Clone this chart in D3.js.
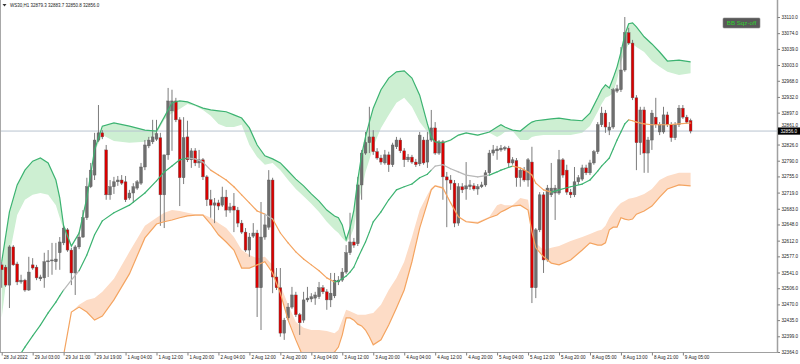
<!DOCTYPE html>
<html><head><meta charset="utf-8">
<script src="https://cdn.jsdelivr.net/npm/d3@7"></script>
<style>html,body{margin:0;padding:0;background:#fff;overflow:hidden}svg{display:block}</style>
</head><body><svg id="c" width="800" height="364"></svg>
<script>
const symbolTitle = "WS30,H1";
const lastOHLC = [32879.3, 32883.7, 32850.8, 32856.0];
const indicatorLabel = "BB Sqz-off";
const priceTicks = [33110,33074,33039,33003,32968,32932,32897,32861,32826,32790,32755,32719,32683,32648,32612,32577,32541,32506,32470,32435,32399,32364];
const timeTickIdx = [0,8,16,24,32,40,48,56,64,72,80,88,96,104,112,120,128,136,144,152,160,168,176];
const timeTickLabels = ["28 Jul 2022","29 Jul 03:00","29 Jul 11:00","29 Jul 19:00","1 Aug 04:00","1 Aug 12:00","1 Aug 20:00","2 Aug 04:00","2 Aug 12:00","2 Aug 20:00","3 Aug 04:00","3 Aug 12:00","3 Aug 20:00","4 Aug 04:00","4 Aug 12:00","4 Aug 20:00","5 Aug 04:00","5 Aug 12:00","5 Aug 20:00","8 Aug 05:00","8 Aug 13:00","8 Aug 21:00","9 Aug 05:00"];

const open = [
32558,32553,32513,32598,32560,32520,32524,32502,32558,32553,
32527,32529,32565,32567,32565,32585,32607,32636,32591,32540,
32598,32620,32663,32732,32758,32836,32852,32814,32714,32732,
32743,32747,32743,32707,32718,32729,32740,32776,32823,32832,
32838,32841,32714,32803,32901,32923,32881,32752,32843,32792,
32812,32785,32792,32754,32703,32691,32696,32691,32709,32680,
32689,32680,32651,32631,32591,32622,32629,32507,32620,32642,
32747,32531,32507,32406,32440,32464,32491,32447,32435,32480,
32482,32484,32487,32507,32498,32480,32489,32520,32524,32542,
32585,32609,32605,32736,32807,32830,32843,32810,32796,32785,
32803,32781,32821,32836,32812,32792,32798,32787,32783,32836,
32787,32836,32863,32807,32832,32754,32747,32740,32651,32732,
32727,32732,32734,32727,32732,32736,32763,32807,32812,32814,
32816,32818,32785,32790,32752,32769,32747,32787,32507,32636,
32714,32569,32714,32718,32718,32792,32769,32720,32714,32743,
32749,32774,32763,32785,32810,32870,32896,32858,32865,32945,
32948,32992,33075,33052,32930,32830,32903,32807,32836,32887,
32854,32854,32892,32870,32841,32870,32907,32887,32879.3];
const high = [
32565,32558,32602,32602,32565,32536,32527,32576,32573,32558,
32536,32585,32591,32607,32607,32620,32645,32640,32596,32602,
32631,32680,32752,32785,32852,32914,32858,32825,32747,32754,
32756,32758,32756,32725,32740,32747,32785,32836,32843,32881,
32881,32852,32803,32952,32948,32930,32887,32887,32879,32818,
32818,32814,32796,32758,32725,32707,32703,32732,32725,32696,
32718,32687,32658,32640,32629,32651,32636,32698,32669,32769,
32752,32551,32551,32440,32473,32509,32498,32451,32498,32509,
32495,32498,32520,32513,32504,32540,32540,32533,32551,32602,
32674,32618,32754,32814,32854,32910,32858,32818,32803,32814,
32810,32830,32843,32841,32818,32805,32803,32794,32854,32843,
32854,32903,32876,32836,32836,32765,32758,32747,32740,32740,
32787,32747,32740,32738,32743,32769,32814,32825,32823,32825,
32823,32823,32798,32796,32774,32776,32796,32821,32640,32720,
32720,32736,32785,32736,32814,32796,32781,32727,32776,32758,
32781,32781,32792,32814,32876,32910,32903,32876,32952,32959,
33043,33110,33086,33059,32936,32910,32910,32843,32903,32930,
32876,32910,32899,32876,32876,32914,32914,32892,32883.7];
const low = [
32507,32509,32462,32556,32513,32516,32498,32500,32547,32524,
32522,32507,32531,32536,32547,32547,32602,32587,32513,32491,
32593,32618,32658,32729,32747,32832,32838,32703,32703,32716,
32734,32736,32698,32703,32696,32725,32736,32769,32818,32827,
32834,32645,32640,32792,32812,32876,32689,32738,32787,32774,
32778,32774,32747,32689,32663,32651,32680,32687,32665,32674,
32631,32642,32627,32587,32576,32618,32442,32413,32614,32636,
32495,32502,32398,32391,32435,32460,32442,32402,32429,32475,
32475,32469,32482,32493,32458,32464,32484,32513,32520,32538,
32580,32596,32600,32703,32803,32807,32803,32792,32781,32781,
32765,32776,32816,32807,32776,32787,32783,32776,32778,32781,
32774,32832,32803,32803,32703,32642,32725,32642,32645,32718,
32703,32725,32723,32714,32729,32732,32758,32801,32792,32810,
32812,32776,32781,32732,32732,32743,32732,32473,32484,32631,
32540,32565,32709,32658,32714,32752,32714,32707,32709,32736,
32745,32758,32758,32781,32805,32865,32852,32847,32861,32941,
32943,32988,33048,32925,32769,32803,32763,32763,32814,32863,
32847,32850,32865,32832,32836,32865,32883,32872,32850.8];
const close = [
32547,32513,32598,32558,32520,32524,32502,32542,32551,32529,
32531,32565,32567,32569,32571,32609,32640,32591,32540,32598,
32620,32663,32732,32769,32836,32852,32843,32714,32732,32743,
32747,32740,32703,32718,32732,32743,32776,32825,32836,32843,
32850,32714,32803,32923,32923,32881,32752,32841,32792,32812,
32785,32792,32754,32703,32691,32696,32689,32709,32680,32687,
32680,32651,32631,32591,32620,32629,32507,32620,32647,32747,
32531,32507,32406,32435,32464,32491,32447,32429,32480,32484,
32487,32491,32507,32498,32480,32495,32524,32524,32542,32585,
32609,32602,32736,32807,32830,32843,32810,32796,32787,32803,
32781,32825,32836,32812,32792,32798,32787,32781,32847,32785,
32836,32863,32807,32832,32754,32747,32740,32651,32732,32725,
32734,32736,32727,32732,32736,32763,32807,32814,32816,32818,
32819,32785,32792,32752,32769,32747,32792,32507,32636,32714,
32569,32729,32729,32729,32792,32758,32720,32714,32743,32752,
32774,32763,32785,32810,32870,32896,32865,32865,32948,32950,
32992,33075,33052,32930,32830,32903,32807,32836,32896,32870,
32870,32892,32870,32841,32870,32907,32887,32876,32856.0];

// Bollinger bands, sampled at these bar indices
const bandIdx = [
0,2,4,6,8,10,12,14,15,16,
18,20,22,24,26,29,33,37,40,42,
44,46,48,50,52,54,56,58,60,62,
64,66,68,70,72,74,76,78,80,82,
84,86,87,88,89,90,91,92,93,94,
95,96,98,100,102,104,106,108,110,111,
112,114,116,118,120,123,126,128,129,130,
132,134,136,137,138,140,142,144,147,150,
152,154,155,156,157,158,159,160,161,162,
163,164,166,168,170,172,175,178];
const upperBand = [
32565,32676,32736,32769,32789,32796,32785,32747,32707,32645,
32600,32629,32707,32814,32867,32874,32867,32858,32856,32887,
32919,32923,32921,32914,32907,32903,32901,32899,32892,32885,
32863,32825,32801,32794,32785,32767,32749,32734,32716,32700,
32680,32667,32663,32647,32614,32640,32680,32747,32803,32843,
32876,32907,32948,32974,32988,32990,32974,32936,32872,32843,
32832,32830,32836,32847,32852,32847,32854,32865,32870,32865,
32858,32856,32870,32876,32879,32881,32883,32885,32881,32879,
32896,32930,32948,32959,32952,32974,32999,33032,33070,33095,
33097,33088,33066,33050,33032,33012,33014,33010];
const upperInner = [
32440,32580,32669,32703,32714,32718,32714,32691,32663,32636,
32596,32625,32703,32810,32847,32834,32830,32832,32850,32881,
32896,32905,32916,32912,32903,32890,32872,32865,32865,32870,
32825,32798,32781,32785,32769,32747,32727,32711,32694,32676,
32654,32636,32629,32618,32609,32618,32640,32691,32725,32765,
32792,32821,32863,32892,32919,32930,32910,32876,32854,32836,
32830,32827,32834,32845,32850,32845,32852,32843,32847,32854,
32856,32836,32836,32843,32845,32847,32847,32847,32847,32852,
32867,32899,32916,32930,32934,32941,32970,33010,33032,33050,
33050,33043,33032,33012,32999,32988,32981,32985];
const middleBand = [
32297,32324,32348,32375,32400,32424,32451,32475,32489,32502,
32524,32545,32580,32625,32656,32674,32691,32718,32745,32765,
32778,32792,32796,32794,32787,32769,32758,32747,32732,32714,
32696,32678,32671,32660,32629,32607,32587,32571,32558,32545,
32529,32520,32522,32527,32533,32542,32553,32573,32591,32609,
32631,32654,32676,32703,32725,32732,32738,32752,32760,32769,
32778,32781,32772,32765,32758,32754,32758,32765,32769,32772,
32778,32774,32765,32758,32740,32725,32720,32725,32732,32738,
32747,32767,32778,32787,32796,32816,32836,32854,32872,32881,
32879,32876,32872,32870,32870,32870,32872,32874];
// g = rising (green), o = falling (orange), n = flat (grey); applies to segment starting at the sample
const middleState = [
"g","g","g","g","g","g","g","g","g","n",
"n","g","g","g","g","g","g","g","g","g",
"g","g","n","n","n","o","o","o","o","o",
"o","o","n","o","o","o","o","o","o","o",
"o","g","g","g","g","g","g","g","g","g",
"g","g","g","g","g","g","g","g","g","n",
"n","n","n","n","n","n","g","g","g","g",
"o","o","o","o","o","o","g","g","g","g",
"g","g","g","g","g","g","g","g","g","o",
"o","o","o","o","o","o","o","o"];
const lowerInner = [
32030,31972,31961,31981,32010,32052,32117,32204,32271,32357,
32453,32469,32480,32484,32498,32527,32587,32645,32663,32674,
32680,32678,32674,32671,32671,32663,32651,32640,32620,32591,
32580,32573,32576,32558,32513,32469,32431,32418,32413,32413,
32411,32406,32413,32435,32458,32455,32451,32447,32447,32447,
32449,32451,32469,32502,32529,32565,32620,32680,32714,32729,
32736,32732,32698,32667,32656,32654,32665,32691,32694,32691,
32691,32707,32703,32645,32607,32591,32596,32600,32611,32620,
32627,32634,32636,32645,32663,32676,32687,32696,32700,32705,
32707,32709,32716,32727,32747,32756,32763,32763];
const lowerBand = [
32030,31972,31961,31981,32010,32052,32117,32204,32271,32357,
32453,32464,32453,32435,32444,32480,32538,32618,32649,32654,
32658,32663,32667,32669,32669,32649,32625,32609,32591,32551,
32551,32558,32565,32540,32495,32435,32391,32351,32342,32342,
32351,32364,32375,32402,32440,32440,32435,32426,32422,32413,
32398,32380,32391,32424,32462,32502,32565,32640,32696,32725,
32734,32729,32696,32665,32654,32651,32663,32669,32676,32680,
32689,32691,32680,32631,32596,32576,32562,32558,32569,32591,
32607,32602,32602,32607,32636,32642,32642,32663,32660,32658,
32660,32671,32678,32689,32709,32727,32736,32734];

const W = 800, H = 364;
const plot = {left: 0, right: 777.5, top: 0, bottom: 352.5};
const svg = d3.select("#c");
const x = d3.scaleLinear().domain([0, 178]).range([1.7, 690.6]);
const y = d3.scaleLinear().domain([32364, 33110]).range([352, 17]);

const font = "'Liberation Sans', Arial, sans-serif";
svg.append("rect").attr("width", W).attr("height", H).attr("fill", "#ffffff");

svg.append("defs").append("clipPath").attr("id", "clip")
  .append("rect").attr("x", plot.left).attr("y", plot.top)
  .attr("width", plot.right - plot.left).attr("height", plot.bottom - plot.top);

const g = svg.append("g").attr("clip-path", "url(#clip)");
const bands = bandIdx.map((b, i) => ({b, u: upperBand[i], ui: upperInner[i], m: middleBand[i], li: lowerInner[i], l: lowerBand[i], s: middleState[i]}));

// shading
g.append("path").datum(bands)
  .attr("d", d3.area().x(d => x(d.b)).y0(d => y(d.ui)).y1(d => y(d.u)))
  .attr("fill", "#cdefd2");
g.append("path").datum(bands)
  .attr("d", d3.area().x(d => x(d.b)).y0(d => y(d.l)).y1(d => y(d.li)))
  .attr("fill", "#fddcc6");

// current price line
g.append("line").attr("x1", 0).attr("x2", plot.right)
  .attr("y1", y(lastOHLC[3])).attr("y2", y(lastOHLC[3]))
  .attr("stroke", "#b9c3cf").attr("stroke-width", 1);

// candles
const bars = open.map((o, i) => ({i, o, h: high[i], l: low[i], c: close[i]}));
const cg = g.append("g");
cg.selectAll("line.wick").data(bars).join("line").attr("class", "wick")
  .attr("x1", d => x(d.i)).attr("x2", d => x(d.i))
  .attr("y1", d => y(d.h)).attr("y2", d => y(d.l))
  .attr("stroke", "#7c7c7c").attr("stroke-width", 1);
cg.selectAll("rect.body").data(bars).join("rect").attr("class", "body")
  .attr("x", d => x(d.i) - 1.4).attr("width", 2.8)
  .attr("y", d => y(Math.max(d.o, d.c)))
  .attr("height", d => Math.max(1, Math.abs(y(d.o) - y(d.c))))
  .attr("fill", d => d.c >= d.o ? "#6e6e6e" : "#d90000")
  .attr("stroke", "#5e5e5e").attr("stroke-width", 0.4);

// band lines
g.append("path").datum(bands)
  .attr("d", d3.line().x(d => x(d.b)).y(d => y(d.u)))
  .attr("fill", "none").attr("stroke", "#3cb371").attr("stroke-width", 1.2);
g.append("path").datum(bands)
  .attr("d", d3.line().x(d => x(d.b)).y(d => y(d.l)))
  .attr("fill", "none").attr("stroke", "#f4a460").attr("stroke-width", 1.2);
const midColor = {g: "#3cb371", o: "#f4a460", n: "#b8b8b8"};
const segs = d3.pairs(bands);
g.selectAll("line.mid").data(segs).join("line").attr("class", "mid")
  .attr("x1", d => x(d[0].b)).attr("y1", d => y(d[0].m))
  .attr("x2", d => x(d[1].b)).attr("y2", d => y(d[1].m))
  .attr("stroke", d => midColor[d[0].s]).attr("stroke-width", 1.2)
  .attr("stroke-linecap", "round");

// frame
svg.append("line").attr("x1", 0.5).attr("x2", 0.5).attr("y1", 0).attr("y2", plot.bottom).attr("stroke", "#a8a8a8");
svg.append("line").attr("x1", 0).attr("x2", plot.right).attr("y1", plot.bottom).attr("y2", plot.bottom).attr("stroke", "#a0a0a0");
svg.append("line").attr("x1", plot.right).attr("x2", plot.right).attr("y1", 0).attr("y2", plot.bottom).attr("stroke", "#a0a0a0").attr("stroke-width", 1.5);

// right axis
const py = y(lastOHLC[3]);
const ya = svg.append("g").attr("transform", `translate(${plot.right},0)`)
  .call(d3.axisRight(y).tickValues(priceTicks).tickFormat(d => d.toFixed(1)).tickSize(2.5).tickPadding(1.5));
ya.select(".domain").remove();
ya.selectAll("line").attr("stroke", "#808080");
ya.selectAll("text").attr("font-family", font).attr("font-size", 4.6).attr("fill", "#222");
// keep the label nearest the price tag clear of it
ya.selectAll(".tick").filter(d => Math.abs(y(d) - py) < 6)
  .select("text").attr("y", d => (y(d) < py ? -(6 - (py - y(d))) : 0));

// bottom axis
const xa = svg.append("g").attr("transform", `translate(0,${plot.bottom})`)
  .call(d3.axisBottom(x).tickValues(timeTickIdx).tickFormat((d, i) => timeTickLabels[i]).tickSize(3));
xa.select(".domain").remove();
xa.selectAll("line").attr("stroke", "#808080");
xa.selectAll("text").attr("font-family", font).attr("font-size", 4.6).attr("fill", "#222")
  .attr("text-anchor", "start").attr("x", 1.5).attr("y", 3.2).attr("dy", "0.71em");

// current price tag
svg.append("rect").attr("x", plot.right + 0.5).attr("y", py - 3.6).attr("width", 22).attr("height", 7.2).attr("fill", "#000");
svg.append("text").attr("x", plot.right + 3).attr("y", py).attr("dy", "0.35em")
  .attr("font-family", font).attr("font-size", 4.6).attr("fill", "#fff").text(lastOHLC[3].toFixed(1));

// header
svg.append("path").attr("d", "M2.5,4 L6.5,4 L4.5,6.5 Z").attr("fill", "#333");
svg.append("text").attr("x", 10).attr("y", 7.3).attr("font-family", font).attr("font-size", 4.5).attr("fill", "#222")
  .text(symbolTitle + "  " + lastOHLC.map(v => v.toFixed(1)).join(" "));

// indicator status box
svg.append("rect").attr("x", 723).attr("y", 18).attr("width", 37).attr("height", 10).attr("rx", 1)
  .attr("fill", "#585858").attr("stroke", "#8a8a8a").attr("stroke-width", 0.6);
svg.append("text").attr("x", 741.5).attr("y", 23.2).attr("dy", "0.35em").attr("text-anchor", "middle")
  .attr("font-family", font).attr("font-size", 6.2).attr("fill", "#2ed12e").text(indicatorLabel);
</script>
</body></html>
